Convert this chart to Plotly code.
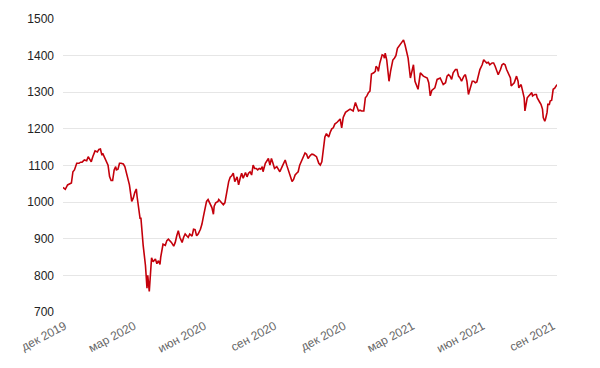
import plotly.graph_objects as go

dates = [
"2019-11-29","2019-12-02","2019-12-05","2019-12-08","2019-12-10","2019-12-12","2019-12-14","2019-12-17","2019-12-20","2019-12-22",
"2019-12-24","2019-12-27","2019-12-30","2020-01-01","2020-01-03","2020-01-05","2020-01-07","2020-01-10","2020-01-13","2020-01-15",
"2020-01-17","2020-01-19","2020-01-20","2020-01-23","2020-01-25","2020-01-27","2020-01-29","2020-01-31","2020-02-02","2020-02-04",
"2020-02-06","2020-02-07","2020-02-09","2020-02-11","2020-02-13","2020-02-16","2020-02-18","2020-02-20","2020-02-22","2020-02-24",
"2020-02-27","2020-02-29","2020-03-02","2020-03-04","2020-03-05","2020-03-08","2020-03-09","2020-03-10","2020-03-12","2020-03-13",
"2020-03-16","2020-03-18","2020-03-19","2020-03-21","2020-03-24","2020-03-26","2020-03-29","2020-03-31","2020-04-02","2020-04-04",
"2020-04-05","2020-04-07","2020-04-08","2020-04-11","2020-04-13","2020-04-15","2020-04-17","2020-04-19","2020-04-22","2020-04-24",
"2020-04-26","2020-04-28","2020-04-30","2020-05-03","2020-05-05","2020-05-07","2020-05-09","2020-05-11","2020-05-13","2020-05-16",
"2020-05-18","2020-05-20","2020-05-22","2020-05-24","2020-05-27","2020-05-29","2020-05-31","2020-06-02","2020-06-04","2020-06-06",
"2020-06-09","2020-06-11","2020-06-13","2020-06-14","2020-06-16","2020-06-19","2020-06-20","2020-06-22","2020-06-24","2020-06-26",
"2020-06-28","2020-07-01","2020-07-03","2020-07-05","2020-07-07","2020-07-09","2020-07-11","2020-07-14","2020-07-16","2020-07-18",
"2020-07-20","2020-07-22","2020-07-25","2020-07-27","2020-07-29","2020-07-31","2020-08-02","2020-08-04","2020-08-06","2020-08-08",
"2020-08-10","2020-08-12","2020-08-14","2020-08-16","2020-08-17","2020-08-20","2020-08-22","2020-08-24","2020-08-26","2020-08-28",
"2020-08-30","2020-09-01","2020-09-04","2020-09-06","2020-09-08","2020-09-11","2020-09-13","2020-09-15","2020-09-17","2020-09-19",
"2020-09-21","2020-09-24","2020-09-26","2020-09-28","2020-09-30","2020-10-02","2020-10-04","2020-10-07","2020-10-09","2020-10-11",
"2020-10-13","2020-10-15","2020-10-18","2020-10-20","2020-10-22","2020-10-24","2020-10-26","2020-10-29","2020-10-31","2020-11-02",
"2020-11-04","2020-11-06","2020-11-08","2020-11-11","2020-11-13","2020-11-15","2020-11-17","2020-11-19","2020-11-22","2020-11-24",
"2020-11-26","2020-11-28","2020-11-30","2020-12-03","2020-12-05","2020-12-07","2020-12-09","2020-12-11","2020-12-13","2020-12-16",
"2020-12-18","2020-12-20","2020-12-22","2020-12-24","2020-12-27","2020-12-29","2020-12-31","2021-01-02","2021-01-04","2021-01-05",
"2021-01-06","2021-01-09","2021-01-11","2021-01-12","2021-01-14","2021-01-15","2021-01-17","2021-01-20","2021-01-22","2021-01-23",
"2021-01-24","2021-01-26","2021-01-28","2021-01-29","2021-01-31","2021-02-03","2021-02-05","2021-02-07","2021-02-09","2021-02-12",
"2021-02-15","2021-02-17","2021-02-19","2021-02-21","2021-02-23","2021-02-26","2021-02-28","2021-03-02","2021-03-04","2021-03-08",
"2021-03-11","2021-03-15","2021-03-20","2021-03-22","2021-03-24","2021-03-26","2021-03-30","2021-04-02","2021-04-06","2021-04-08",
"2021-04-10","2021-04-13","2021-04-15","2021-04-17","2021-04-19","2021-04-21","2021-04-23","2021-04-26","2021-04-28","2021-04-30",
"2021-05-02","2021-05-04","2021-05-07","2021-05-09","2021-05-11","2021-05-13","2021-05-15","2021-05-18","2021-05-20","2021-05-22",
"2021-05-24","2021-05-26","2021-05-28","2021-05-31","2021-06-02","2021-06-04","2021-06-06","2021-06-08","2021-06-10","2021-06-13",
"2021-06-15","2021-06-17","2021-06-19","2021-06-21","2021-06-24","2021-06-26","2021-06-28","2021-06-30","2021-07-02","2021-07-04",
"2021-07-07","2021-07-08","2021-07-10","2021-07-12","2021-07-15","2021-07-17","2021-07-18","2021-07-21","2021-07-23","2021-07-25",
"2021-07-26","2021-07-28","2021-07-29","2021-07-31","2021-08-02","2021-08-04","2021-08-05","2021-08-08","2021-08-10","2021-08-11",
"2021-08-14","2021-08-16","2021-08-18","2021-08-19","2021-08-21","2021-08-22","2021-08-24","2021-08-25","2021-08-27","2021-08-28",
"2021-08-30","2021-09-01","2021-09-03","2021-09-05","2021-09-06",
]

values = [
1040,1035,1047,1050,1052,1083,1088,1106,1106,1109,
1109,1115,1113,1124,1115,1110,1124,1140,1137,1144,
1145,1128,1133,1120,1110,1101,1070,1059,1059,1088,
1097,1088,1090,1106,1106,1104,1097,1079,1056,1047,
1002,1011,1026,1036,1016,962,954,958,890,882,
827,765,800,756,848,837,845,832,840,830,
850,872,885,882,895,899,895,890,880,890,
908,922,904,890,904,913,908,904,913,907,
926,925,908,913,926,940,962,985,1002,1007,
993,985,967,989,998,1002,1007,1002,995,993,
998,1034,1056,1068,1072,1079,1056,1069,1047,1065,
1079,1065,1081,1069,1079,1083,1074,1101,1092,1092,
1088,1092,1090,1097,1083,1106,1113,1119,1101,1119,
1106,1092,1097,1088,1083,1097,1106,1115,1101,1088,
1079,1056,1062,1074,1079,1083,1101,1115,1128,1134,
1131,1119,1128,1131,1130,1128,1124,1106,1101,1110,
1142,1178,1187,1178,1191,1200,1203,1213,1218,1224,
1227,1203,1231,1245,1249,1251,1254,1251,1249,1272,
1258,1249,1251,1249,1249,1285,1290,1299,1303,1321,
1350,1353,1357,1371,1366,1357,1380,1402,1400,1393,
1407,1388,1348,1330,1357,1388,1393,1400,1420,1429,
1438,1443,1429,1411,1393,1339,1357,1375,1330,1308,
1353,1344,1339,1326,1290,1305,1312,1335,1339,1330,
1321,1326,1344,1348,1344,1335,1353,1362,1362,1344,
1339,1330,1344,1348,1330,1294,1312,1330,1330,1326,
1328,1348,1362,1375,1389,1384,1380,1382,1375,1380,
1380,1371,1357,1348,1362,1375,1378,1375,1362,1353,
1339,1317,1321,1326,1344,1330,1312,1321,1303,1285,
1249,1272,1285,1290,1294,1299,1290,1294,1294,1285,
1274,1267,1254,1231,1221,1227,1245,1267,1267,1276,
1278,1308,1311,1317,1321,
]

tick_dates = ["2019-12-01","2020-03-01","2020-06-01","2020-09-01",
              "2020-12-01","2021-03-01","2021-06-01","2021-09-01"]
tick_labels = ["дек 2019","мар 2020","июн 2020","сен 2020",
               "дек 2020","мар 2021","июн 2021","сен 2021"]
y_ticks = [700, 800, 900, 1000, 1100, 1200, 1300, 1400, 1500]

fig = go.Figure()
fig.add_trace(go.Scatter(
    x=dates, y=values, mode="lines",
    line=dict(color="#c4000b", width=1.6),
    hoverinfo="x+y", showlegend=False,
))

fig.update_layout(
    width=600, height=368,
    margin=dict(l=63, r=43, t=17, b=54),
    paper_bgcolor="white", plot_bgcolor="white",
    font=dict(family="Liberation Sans, Arial, sans-serif", size=12, color="#222"),
)
fig.update_xaxes(
    range=[dates[0], dates[-1]],
    tickvals=tick_dates, ticktext=tick_labels,
    tickangle=-28, tickfont=dict(color="#666", size=12),
    showgrid=False, zeroline=False, showline=False, ticks="",
    ticklabelstandoff=4,
)
fig.update_yaxes(
    range=[700, 1500], tickvals=y_ticks,
    showgrid=True, gridcolor="#e6e6e6", gridwidth=1,
    zeroline=False, showline=False, ticks="",
    tickfont=dict(color="#222", size=12),
    ticklabelstandoff=8,
)

fig.write_html("out.html")
